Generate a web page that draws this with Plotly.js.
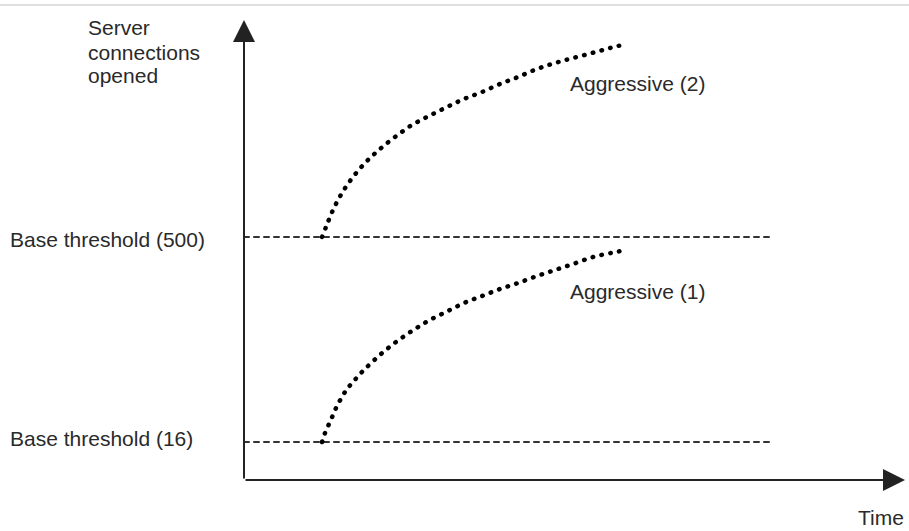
<!DOCTYPE html>
<html>
<head>
<meta charset="utf-8">
<script src="https://cdn.plot.ly/plotly-3.0.1.min.js"></script>
<style>
  html, body { margin: 0; padding: 0; background: #fff; }
  #chart { width: 909px; height: 531px; }
  .js-line { stroke-linecap: round; }
</style>
</head>
<body>
<div id="chart"></div>
<script>
// ---- data (abstract units) ----
var timeRange = [0, 66.1];
var connRange = [0, 46];

var thresholdLabels = ['Base threshold (500)', 'Base threshold (16)'];
var thresholdLevels = [24.3, 3.8];
var thresholdSpan = [0, 52.6];

var aggressive2Time = [7.8, 8.2, 8.9, 9.8, 10.9, 12.2, 13.6, 15.1, 16.8, 18.5, 20.3, 22.0, 23.8, 25.6, 27.4, 29.3, 31.1, 32.9, 34.8, 36.6, 37.8];
var aggressive2Conn = [24.3, 25.3, 27.0, 28.7, 30.3, 31.8, 33.1, 34.3, 35.5, 36.4, 37.3, 38.1, 38.8, 39.6, 40.3, 41.1, 41.7, 42.2, 42.7, 43.2, 43.5];

var aggressive1Time = [7.8, 8.1, 8.5, 8.9, 9.3, 9.8, 10.3, 10.9, 11.6, 12.3, 13.7, 15.2, 16.8, 18.4, 20.2, 22.0, 23.8, 25.6, 27.4, 29.3, 31.1, 32.9, 34.9, 36.7, 37.7];
var aggressive1Conn = [3.8, 4.7, 5.6, 6.5, 7.4, 8.3, 9.1, 9.8, 10.6, 11.3, 12.6, 13.8, 14.9, 15.9, 16.8, 17.7, 18.4, 19.1, 19.7, 20.4, 21.0, 21.6, 22.3, 22.7, 22.9];

var seriesLabels = ['Aggressive (2)', 'Aggressive (1)'];
var yTitleLines = ['Server', 'connections', 'opened'];
var xTitle = 'Time';

// ---- layout helpers (pixel -> paper) ----
var W = 909, H = 531, mL = 244, mR = 4, mT = 20, mB = 51;
var pw = W - mL - mR, ph = H - mT - mB;
function px(x) { return (x - mL) / pw; }
function py(y) { return (H - mB - y) / ph; }

var dotLine = { color: '#000', width: 4.5, dash: '0.5px,8.5px', shape: 'spline', smoothing: 1 };
var dashLine = { color: '#333', width: 2, dash: '5px,5px' };

var traces = [
  { x: thresholdSpan, y: [thresholdLevels[0], thresholdLevels[0]], mode: 'lines', line: dashLine },
  { x: thresholdSpan, y: [thresholdLevels[1], thresholdLevels[1]], mode: 'lines', line: dashLine },
  { x: aggressive2Time, y: aggressive2Conn, mode: 'lines', line: dotLine },
  { x: aggressive1Time, y: aggressive1Conn, mode: 'lines', line: dotLine }
];

var font = { family: 'Liberation Sans, Arial, sans-serif', size: 21, color: '#2a2a2a' };

function label(text, x, y, xanchor, yanchor) {
  return { text: text, xref: 'paper', yref: 'paper', x: px(x), y: py(y),
           xanchor: xanchor || 'left', yanchor: yanchor || 'middle', showarrow: false,
           borderpad: 0, font: font };
}

var annotations = [
  // axes with arrowheads
  { xref: 'x', yref: 'y', axref: 'x', ayref: 'y', x: timeRange[1], y: 0, ax: 0, ay: 0,
    text: '', showarrow: true, arrowhead: 2, arrowsize: 2.2, arrowwidth: 2, arrowcolor: '#222', standoff: 0 },
  { xref: 'x', yref: 'y', axref: 'x', ayref: 'y', x: 0, y: connRange[1], ax: 0, ay: 0,
    text: '', showarrow: true, arrowhead: 2, arrowsize: 2.2, arrowwidth: 2, arrowcolor: '#222', standoff: 0 },
  label(yTitleLines[0], 87, 27),
  label(yTitleLines[1], 87, 52),
  label(yTitleLines[2], 87, 76),
  label(thresholdLabels[0], 9, 239),
  label(thresholdLabels[1], 9, 438),
  label(seriesLabels[0], 569, 84),
  label(seriesLabels[1], 569, 291),
  label(xTitle, 905, 530, 'right', 'bottom')
];

var layout = {
  width: W, height: H,
  margin: { l: mL, r: mR, t: mT, b: mB, pad: 0 },
  paper_bgcolor: '#fff', plot_bgcolor: 'rgba(0,0,0,0)',
  showlegend: false,
  hovermode: false,
  xaxis: { range: timeRange, visible: false, fixedrange: true },
  yaxis: { range: connRange, visible: false, fixedrange: true },
  annotations: annotations,
  shapes: [
    { type: 'line', xref: 'paper', yref: 'paper', x0: px(0), x1: px(W), y0: py(5), y1: py(5),
      line: { color: '#d4d4d4', width: 1.5 } }
  ]
};

Plotly.newPlot('chart', traces, layout, { displayModeBar: false, staticPlot: true });
</script>
</body>
</html>
